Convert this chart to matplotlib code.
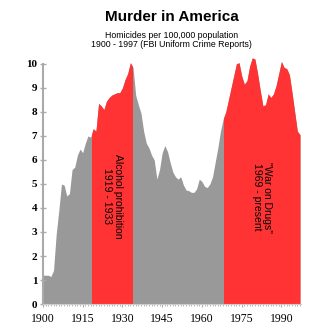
import numpy as np
import matplotlib.pyplot as plt
from matplotlib.patches import Rectangle

# Homicides per 100,000 population
years = np.arange(1900, 1998)
rates = [1.2, 1.2, 1.2, 1.15, 1.4, 2.9, 3.9, 5.0, 4.95, 4.5,
         4.6, 5.6, 5.7, 6.2, 6.45, 6.3, 6.7, 7.0, 6.95, 7.3,
         7.2, 8.35, 8.25, 8.1, 8.45, 8.6, 8.7, 8.75, 8.8, 8.8,
         9.0, 9.35, 9.6, 10.05, 9.85, 8.7, 8.3, 7.95, 7.2, 6.7,
         6.5, 6.2, 6.0, 5.2, 5.6, 6.3, 6.6, 6.35, 5.9, 5.5,
         5.3, 5.2, 5.3, 4.96, 4.75, 4.72, 4.65, 4.65, 4.8, 5.2,
         5.1, 4.9, 4.85, 5.0, 5.3, 5.9, 6.5, 7.2, 7.7, 8.0,
         8.5, 9.0, 9.5, 10.0, 10.05, 9.5, 9.15, 9.3, 9.9, 10.25,
         10.2, 9.6, 8.9, 8.25, 8.3, 8.75, 8.6, 8.75, 9.1, 9.6,
         10.1, 9.85, 9.8, 9.55, 8.8, 8.0, 7.2, 7.05]

periods = [(1919, 1933), (1969, 1997)]
period_labels = ["Alcohol prohibition\n1919 - 1933", "\"War on Drugs\"\n1969 - present"]
label_pos = [(1926.2, 4.5), (1982.6, 4.45)]

GRAY = '#999999'
RED = '#ff3333'

fig = plt.figure(figsize=(3.18, 3.33), dpi=100)
ax = fig.add_axes([0.135, 0.087, 0.81, 0.75])

ax.fill_between(years, rates, color=GRAY, linewidth=0)
for (a, b), txt, (tx, ty) in zip(periods, period_labels, label_pos):
    red = ax.fill_between(years, rates, color=RED, linewidth=0)
    clip = Rectangle((a - 0.5, 0), (b - a) + 1, 12, transform=ax.transData)
    red.set_clip_path(clip)
    ax.text(tx, ty, txt, rotation=-90, ha='center', va='center',
            fontsize=7.5, family='Liberation Sans', linespacing=1.05)

ax.set_xlim(1900, 1997.2)
ax.set_ylim(0, 10.4)

for s in ['top', 'right']:
    ax.spines[s].set_visible(False)
ax.spines['left'].set_color('#aaaaaa')
ax.spines['left'].set_linewidth(1.5)
ax.spines['left'].set_bounds(0, 10)
ax.spines['bottom'].set_color('#cccccc')
ax.spines['bottom'].set_linewidth(0.8)

ax.set_yticks(range(0, 11))
ax.set_xticks(range(1900, 1991, 15))
ax.set_xticks(range(1900, 1998), minor=True)
ax.tick_params(axis='y', direction='inout', length=4, width=1, color='#aaaaaa', pad=2)
ax.tick_params(axis='x', which='major', direction='out', length=2.5, width=0.8,
               color='#aaaaaa', pad=4)
ax.tick_params(axis='x', which='minor', direction='out', length=1.5, width=0.6,
               color='#aaaaaa')
for lab in ax.get_yticklabels():
    lab.set_fontfamily('Liberation Serif')
    lab.set_fontweight('bold')
    lab.set_fontsize(8)
for lab in ax.get_xticklabels():
    lab.set_fontfamily('Liberation Serif')
    lab.set_fontsize(8.5)

fig.text(0.54, 0.948, "Murder in America", ha='center', va='center',
         fontsize=11, fontweight='bold', family='Liberation Sans')
fig.text(0.54, 0.88, "Homicides per 100,000 population\n1900 - 1997 (FBI Uniform Crime Reports)",
         ha='center', va='center', fontsize=6.3, family='Liberation Sans', linespacing=1.0)

fig.savefig('out.png', dpi=100)
